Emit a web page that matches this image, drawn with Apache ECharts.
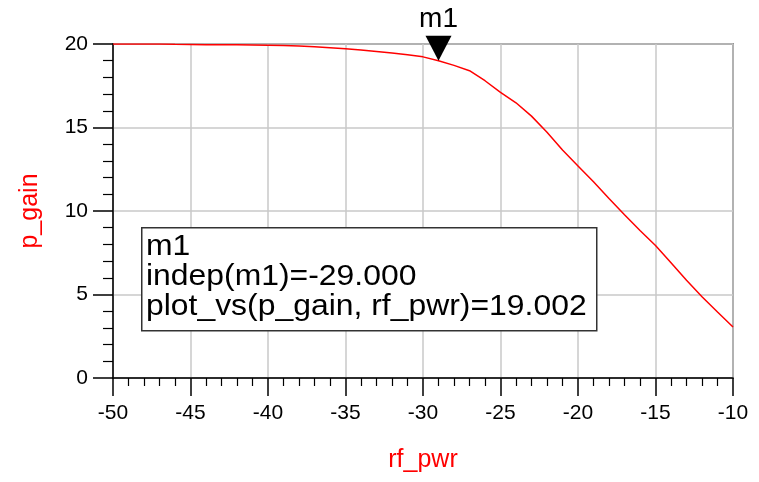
<!DOCTYPE html>
<html>
<head>
<meta charset="utf-8">
<script src="https://cdn.jsdelivr.net/npm/echarts@6/dist/echarts.min.js"></script>
<style>
html,body{margin:0;padding:0;background:#fff;}
#c{width:759px;height:482px;}
</style>
</head>
<body>
<div id="c"></div>
<script>
var rfPwr = [-50,-49,-48,-47,-46,-45,-44,-43,-42,-41,-40,-39,-38,-37,-36,-35,-34,-33,-32,-31,-30,-29,-28,-27,-26,-25,-24,-23,-22,-21,-20,-19,-18,-17,-16,-15,-14,-13,-12,-11,-10];
var pGain = [20.0,20.0,20.0,20.0,19.98,19.97,19.96,19.95,19.95,19.94,19.93,19.91,19.88,19.84,19.78,19.72,19.64,19.55,19.46,19.36,19.23,19.002,18.72,18.4,17.8,17.1,16.48,15.68,14.72,13.65,12.7,11.75,10.75,9.77,8.83,7.93,6.9,5.85,4.87,3.95,3.05];
var markerX = -29;
var markerY = 19.002;
var markerName = "m1";
var legendLines = ["m1", "indep(m1)=-29.000", "plot_vs(p_gain, rf_pwr)=19.002"];
var xName = "rf_pwr";
var yName = "p_gain";

var data = rfPwr.map(function(x,i){return [x,pGain[i]];});
var chart = echarts.init(document.getElementById('c'));
var font = 'Liberation Sans, Arial, sans-serif';
chart.setOption({
  animation:false,
  backgroundColor:'#ffffff',
  grid:{left:113,right:26,top:44,bottom:104,show:true,borderColor:'#444',borderWidth:1.5,containLabel:false},
  xAxis:{type:'value',min:-50,max:-10,interval:5,
    name:xName,nameLocation:'middle',nameGap:70,
    nameTextStyle:{color:'#ff0000',fontSize:25,fontFamily:font},
    axisLine:{show:true,onZero:false,lineStyle:{color:'#000',width:1.5}},
    axisTick:{show:true,length:18,lineStyle:{color:'#000',width:1.5}},
    minorTick:{show:true,splitNumber:5,length:8,lineStyle:{color:'#000',width:1.2}},
    axisLabel:{color:'#000',fontSize:21,fontFamily:font,margin:25},
    splitLine:{show:true,lineStyle:{color:'#c8c8c8',width:1.5}}},
  yAxis:{type:'value',min:0,max:20,interval:5,
    name:yName,nameLocation:'middle',nameGap:70,
    nameTextStyle:{color:'#ff0000',fontSize:25,fontFamily:font},
    axisLine:{show:true,onZero:false,lineStyle:{color:'#000',width:1.5}},
    axisTick:{show:true,length:20,lineStyle:{color:'#000',width:1.5}},
    minorTick:{show:true,splitNumber:5,length:10,lineStyle:{color:'#000',width:1.2}},
    axisLabel:{color:'#000',fontSize:21,fontFamily:font,margin:25},
    splitLine:{show:true,lineStyle:{color:'#c8c8c8',width:1.5}}},
  series:[{
    type:'line',data:data,showSymbol:false,smooth:false,
    lineStyle:{color:'#ff0000',width:1.5},
    markPoint:{
      symbol:'triangle',symbolSize:[26,25],symbolRotate:180,symbolOffset:[0,-12.5],
      itemStyle:{color:'#000'},
      label:{show:true,position:'top',distance:2,color:'#000',fontSize:28,fontFamily:font,formatter:markerName},
      data:[{coord:[markerX,markerY]}]
    }
  }],
  graphic:[
    {type:'rect',left:141,top:227,shape:{width:455,height:103},style:{fill:'#fff',stroke:'#333',lineWidth:1.5},z:10},
    {type:'text',left:146,top:232,z:11,scaleX:1.1,
      style:{text:legendLines.join('\n'),fontSize:29,lineHeight:30,fontFamily:font,fill:'#000'}}
  ]
});
</script>
</body>
</html>
